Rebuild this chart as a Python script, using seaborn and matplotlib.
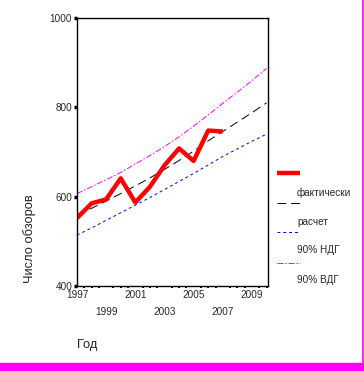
import numpy as np
import pandas as pd
import matplotlib
matplotlib.use("Agg")
import matplotlib.pyplot as plt
import seaborn as sns
from matplotlib.lines import Line2D
from matplotlib.patches import Rectangle

# data
years = list(range(1997, 2011))
actual_years = list(range(1997, 2008))
actual = [552, 585, 594, 641, 587, 622, 670, 708, 680, 748, 746]
forecast = [560, 574, 590, 607, 624, 642, 661, 681, 702, 725, 746, 767, 788, 810]
lower90 = [514, 530, 547, 564, 581, 598, 616, 634, 652, 671, 690, 707, 724, 740]
upper90 = [607, 622, 638, 654, 673, 692, 712, 734, 758, 783, 809, 834, 860, 887]

legend_labels = ["фактически", "расчет", "90% НДГ", "90% ВДГ"]
xtick_years = [1997, 1999, 2001, 2003, 2005, 2007, 2009]
ytick_vals = [400, 600, 800, 1000]

sns.set_style("white")
plt.rcParams['font.family'] = ['Liberation Sans', 'DejaVu Sans']

df_act = pd.DataFrame({'year': actual_years, 'value': actual})
df_fc = pd.DataFrame({'year': years, 'forecast': forecast,
                      'lower': lower90, 'upper': upper90})

fig = plt.figure(figsize=(3.64, 3.71), dpi=100)
ax = fig.add_axes([77/364, 1-286/371, 191/364, 268/371])

styles = {
    'actual': dict(color='red', lw=3.2, ls='-', solid_capstyle='butt'),
    'forecast': dict(color='black', lw=0.7, ls=(0, (9, 5))),
    'lower': dict(color='#0000ff', lw=0.7, ls=(0, (3, 3))),
    'upper': dict(color='#ff00ff', lw=0.7, ls=(0, (6, 2, 1.5, 2))),
}

sns.lineplot(data=df_fc, x='year', y='upper', ax=ax, **styles['upper'])
sns.lineplot(data=df_fc, x='year', y='lower', ax=ax, **styles['lower'])
sns.lineplot(data=df_fc, x='year', y='forecast', ax=ax, **styles['forecast'])
sns.lineplot(data=df_act, x='year', y='value', ax=ax, **styles['actual'])

ax.set_xlim(1997, 2010.1)
ax.set_ylim(400, 1000)
ax.set_xlabel('')
ax.set_ylabel('')

ax.set_xticks(xtick_years)
ax.set_xticklabels([str(y) if i % 2 == 0 else '\n' + str(y)
                    for i, y in enumerate(xtick_years)], fontsize=7.2)
for t in ax.get_xticklabels():
    t.set_linespacing(1.9)
ax.set_xticks(np.arange(1997, 2010.1, 0.5), minor=True)
ax.tick_params(axis='x', which='major', length=0, pad=3)
ax.tick_params(axis='x', which='minor', direction='out', length=1.5,
               width=1.4, color='black', bottom=True)
ax.set_yticks(ytick_vals)
ax.set_yticklabels([str(v) for v in ytick_vals], fontsize=7.2)
ax.tick_params(axis='y', which='major', direction='out', length=2.5,
               width=2.5, pad=1, color='black', left=True)

for s in ax.spines.values():
    s.set_visible(True)
    s.set_color('black')
    s.set_linewidth(1.0)

# axis titles
fig.text(30/364, 1-239/371, 'Число обзоров', rotation=90, ha='center',
         va='center', fontsize=9.3)
fig.text(77/364, 1-345/371, 'Год', ha='left', va='center', fontsize=9.3)

# SPSS style legend: handle above each label
leg_keys = ['actual', 'forecast', 'lower', 'upper']
handle_y = [173, 203, 232, 263]
label_y = [193, 222, 250, 280]
for key, hy, ly, lab in zip(leg_keys, handle_y, label_y, legend_labels):
    st = dict(styles[key])
    st.pop('solid_capstyle', None)
    fig.add_artist(Line2D([277/364, 300/364], [1-hy/371, 1-hy/371],
                          color=st['color'], lw=st['lw'], ls=st['ls'],
                          solid_capstyle='butt'))
    fig.text(297/364, 1-ly/371, lab, ha='left', va='center', fontsize=7.2)

# magenta frame bits
fig.add_artist(Line2D([363/364, 363/364], [8/371, 1], color='#ff00ff', lw=1.2))
fig.add_artist(Rectangle((0, 0), 363/364, 8/371, color='#ff00ff',
                         transform=fig.transFigure))

fig.savefig('out.png', dpi=100)
